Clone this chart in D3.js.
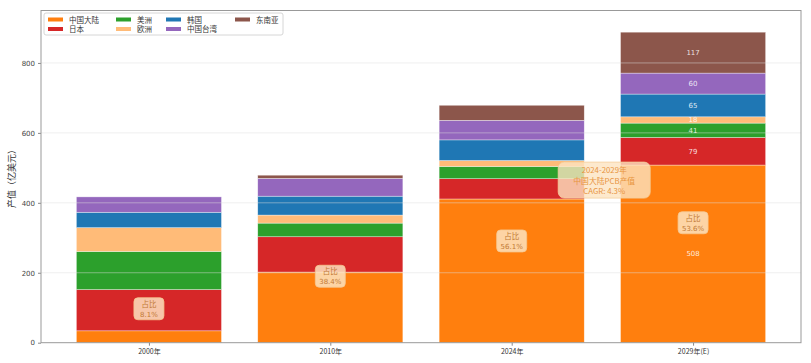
<!DOCTYPE html>
<html>
<head>
<meta charset="utf-8">
<script src="https://cdn.jsdelivr.net/npm/d3@7"></script>
<style>
body { margin: 0; background: #fff; }
text { font-family: "DejaVu Sans", "Noto Sans CJK SC", sans-serif; }
.cjk { font-family: "Noto Sans CJK SC", "DejaVu Sans", sans-serif; }
</style>
</head>
<body>
<svg id="chart" width="811" height="363"></svg>
<script>
// data
var years = ["2000年", "2010年", "2024年", "2029年(E)"];
var regions = ["中国大陆", "日本", "美洲", "欧洲", "韩国", "中国台湾", "东南亚"];
var colors = ["#ff7f0e", "#d62728", "#2ca02c", "#ffbb78", "#1f77b4", "#9467bd", "#8c564b"];
var cnVals = [34, 202, 411, 508];
var jpVals = [118, 101, 58, 79];
var usVals = [109, 39, 35, 41];
var euVals = [68, 23, 17, 18];
var krVals = [44, 54, 59, 65];
var twVals = [44, 51, 56, 60];
var seaVals = [0, 9, 43, 117];
var shareText = ["8.1%", "38.4%", "56.1%", "53.6%"];
var shareAt = [97, 190, 291, 343]; // label anchor, in 亿美元
var yTicks = [0, 200, 400, 600, 800];
var cagrLines = ["2024-2029年", "中国大陆PCB产值", "CAGR: 4.3%"];
var labelBar = 3; // only the 2029 bar gets value labels

var series = [cnVals, jpVals, usVals, euVals, krVals, twVals, seaVals];

var svg = d3.select("#chart");
var L = 41, R = 801, T = 10.5, B = 342.7;

var x = d3.scaleLinear().domain([-0.595, 3.595]).range([L, R]);
var y = d3.scaleLinear().domain([0, 950]).range([B, T]);
var bw = x(0.8) - x(0);

// stack
var stacks = years.map(function(yr, i) {
	var base = 0;
	return series.map(function(s, k) {
		var seg = {i: i, k: k, v: s[i], y0: base, y1: base + s[i]};
		base += s[i];
		return seg;
	});
});
var segs = [].concat.apply([], stacks);

svg.append("g").selectAll("rect")
	.data(segs.filter(function(d) { return d.v > 0; }))
	.enter().append("rect")
	.attr("x", function(d) { return x(d.i) - bw / 2; })
	.attr("y", function(d) { return y(d.y1); })
	.attr("width", bw)
	.attr("height", function(d) { return y(d.y0) - y(d.y1); })
	.attr("fill", function(d) { return colors[d.k]; })
	.attr("stroke", "#fff")
	.attr("stroke-opacity", 0.6)
	.attr("stroke-width", 0.6);

// grid over bars, faint
svg.append("g").selectAll("line")
	.data(yTicks.slice(1))
	.enter().append("line")
	.attr("x1", L).attr("x2", R)
	.attr("y1", function(d) { return y(d); })
	.attr("y2", function(d) { return y(d); })
	.attr("stroke", "#ddd")
	.attr("stroke-opacity", 0.6)
	.attr("stroke-width", 0.8);

// value labels on 2029 bar
svg.append("g").selectAll("text")
	.data(stacks[labelBar])
	.enter().append("text")
	.attr("x", function(d) { return x(d.i); })
	.attr("y", function(d) { return y((d.y0 + d.y1) / 2) + 2.5; })
	.attr("text-anchor", "middle")
	.attr("font-size", 7)
	.attr("fill", "#fff")
	.attr("fill-opacity", 0.85)
	.text(function(d) { return d.v; });

// axes
var yAxis = d3.axisLeft(y).tickValues(yTicks).tickSize(3).tickPadding(3);
var gy = svg.append("g").attr("transform", "translate(" + L + ",0)").call(yAxis);
gy.select(".domain").remove();
gy.selectAll("text").attr("font-size", 7).attr("fill", "#444");
gy.selectAll("line").attr("stroke", "#888");

var xAxis = d3.axisBottom(x).tickValues([0, 1, 2, 3]).tickFormat(function(d) { return years[d]; }).tickSize(3).tickPadding(3);
var gx = svg.append("g").attr("transform", "translate(0," + B + ")").call(xAxis);
gx.select(".domain").remove();
gx.selectAll("text").attr("font-size", 7).attr("fill", "#333").attr("class", "cjk");
gx.selectAll("line").attr("stroke", "#888");

// frame
svg.append("rect")
	.attr("x", L).attr("y", T)
	.attr("width", R - L).attr("height", B - T)
	.attr("fill", "none")
	.attr("stroke", "#999")
	.attr("stroke-width", 1);

svg.append("text")
	.attr("class", "cjk")
	.attr("transform", "translate(15," + ((T + B) / 2) + ") rotate(-90)")
	.attr("text-anchor", "middle")
	.attr("font-size", 9)
	.attr("fill", "#333")
	.text("产值（亿美元）");

// share boxes
var share = svg.append("g").selectAll("g")
	.data(shareText)
	.enter().append("g")
	.attr("transform", function(d, i) { return "translate(" + x(i) + "," + y(shareAt[i]) + ")"; });
share.append("rect")
	.attr("x", -15).attr("y", -11)
	.attr("width", 30).attr("height", 22)
	.attr("rx", 4)
	.attr("fill", "#fde3c0")
	.attr("fill-opacity", 0.85)
	.attr("stroke", "#f5c891")
	.attr("stroke-width", 0.8);
share.append("text")
	.attr("class", "cjk")
	.attr("text-anchor", "middle")
	.attr("y", -2)
	.attr("font-size", 7.5)
	.attr("fill", "#c27a35")
	.text("占比");
share.append("text")
	.attr("text-anchor", "middle")
	.attr("y", 8)
	.attr("font-size", 7)
	.attr("fill", "#c27a35")
	.text(function(d) { return d; });

// CAGR note, between 2024 and 2029 bars
var cg = svg.append("g").attr("transform", "translate(" + x(2.51) + "," + y(465) + ")");
cg.append("rect")
	.attr("x", -46).attr("y", -18)
	.attr("width", 92).attr("height", 36)
	.attr("rx", 6)
	.attr("fill", "#fde3c0")
	.attr("fill-opacity", 0.8)
	.attr("stroke", "#f5cf9c")
	.attr("stroke-width", 0.8);
cg.selectAll("text")
	.data(cagrLines)
	.enter().append("text")
	.attr("class", "cjk")
	.attr("text-anchor", "middle")
	.attr("y", function(d, i) { return -7 + i * 10.5; })
	.attr("font-size", 7.8)
	.attr("fill", "#e8953f")
	.text(function(d) { return d; });

// legend
var lg = svg.append("g");
lg.append("rect")
	.attr("x", 44).attr("y", 13)
	.attr("width", 239).attr("height", 22)
	.attr("rx", 2)
	.attr("fill", "#fff")
	.attr("fill-opacity", 0.85)
	.attr("stroke", "#ccc")
	.attr("stroke-width", 0.8);
var colX = [48, 116, 166, 235];
var item = lg.selectAll("g")
	.data(regions)
	.enter().append("g")
	.attr("transform", function(d, i) {
		return "translate(" + colX[Math.floor(i / 2)] + "," + (19.5 + (i % 2) * 9.5) + ")";
	});
item.append("rect")
	.attr("x", 0).attr("y", -2)
	.attr("width", 15).attr("height", 4)
	.attr("fill", function(d, i) { return colors[i]; });
item.append("text")
	.attr("class", "cjk")
	.attr("x", 21).attr("y", 3)
	.attr("font-size", 7.5)
	.attr("fill", "#333")
	.text(function(d) { return d; });
</script>
</body>
</html>
